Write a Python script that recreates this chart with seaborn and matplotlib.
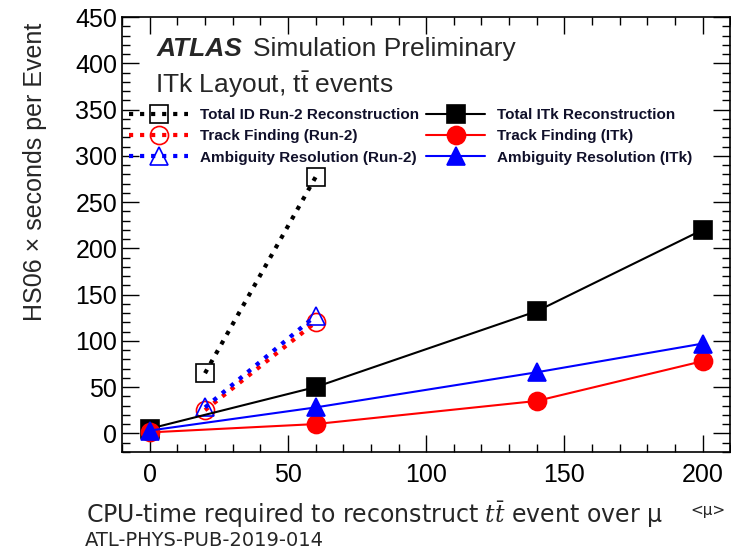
import matplotlib
matplotlib.use("Agg")
import matplotlib.pyplot as plt
import seaborn as sns
import numpy as np
from matplotlib.ticker import MultipleLocator

sns.set_theme(style="ticks")
plt.rcParams['font.family'] = ['Liberation Sans', 'DejaVu Sans']
plt.rcParams['mathtext.fontset'] = 'custom'
plt.rcParams['mathtext.rm'] = 'Liberation Sans'
plt.rcParams['mathtext.it'] = 'DejaVu Serif:italic'

# Data
mu_run2 = [20, 60]
total_run2 = [65, 277]
track_run2 = [25, 120]
ambi_run2 = [28, 127]

mu_itk = [0, 60, 140, 200]
total_itk = [5, 50, 132, 220]
track_itk = [1, 10, 35, 78]
ambi_itk = [3, 28, 66, 97]

labels_run2 = ["Total ID Run-2 Reconstruction", "Track Finding (Run-2)", "Ambiguity Resolution (Run-2)"]
labels_itk = ["Total ITk Reconstruction", "Track Finding (ITk)", "Ambiguity Resolution (ITk)"]

fig = plt.figure(figsize=(7.31, 5.51), dpi=100)
ax = fig.add_axes([0.167, 0.180, 0.832, 0.789])

series = [
    (mu_run2, total_run2, labels_run2[0], 'black', 's', ':', 'none', 13),
    (mu_run2, track_run2, labels_run2[1], 'red', 'o', ':', 'none', 13),
    (mu_run2, ambi_run2, labels_run2[2], 'blue', '^', ':', 'none', 13),
    (mu_itk, total_itk, labels_itk[0], 'black', 's', '-', 'black', 13),
    (mu_itk, track_itk, labels_itk[1], 'red', 'o', '-', 'red', 13),
    (mu_itk, ambi_itk, labels_itk[2], 'blue', '^', '-', 'blue', 13),
]
for x, y, lab, col, mk, ls, mfc, ms in series:
    lw = 3.0 if ls == ':' else 1.5
    sns.lineplot(x=x, y=y, ax=ax, color=col, marker=mk, linestyle=ls, linewidth=lw,
                 markersize=ms, markerfacecolor=mfc, markeredgecolor=col,
                 markeredgewidth=1.2, label=lab, legend=False)

ax.set_xlim(-10, 210)
ax.set_ylim(-20, 450)
ax.xaxis.set_major_locator(MultipleLocator(50))
ax.xaxis.set_minor_locator(MultipleLocator(10))
ax.yaxis.set_major_locator(MultipleLocator(50))
ax.yaxis.set_minor_locator(MultipleLocator(10))
ax.tick_params(which='both', direction='in', top=True, right=True, labelsize=18, colors='black')
ax.tick_params(which='major', length=12, width=1)
ax.tick_params(which='minor', length=6, width=1)
ax.tick_params(axis='x', pad=8)
for s in ax.spines.values():
    s.set_color('black')
    s.set_linewidth(1.2)

ax.set_ylabel("")
ax.set_xlabel("")
fig.text(35/731, 1 - 172/551, "HS06 × seconds per Event", rotation=90, fontsize=18,
         ha='center', va='center')

ax.text(0.056, 0.927, "ATLAS", transform=ax.transAxes, fontsize=19, fontweight='bold',
        fontstyle='italic', va='center')
ax.text(0.215, 0.927, "Simulation Preliminary", transform=ax.transAxes, fontsize=19, va='center')
ax.text(0.054, 0.845, "ITk Layout, t$\\bar{\\mathrm{t}}$ events", transform=ax.transAxes,
        fontsize=19, va='center')

handles, labs = ax.get_legend_handles_labels()
leg = ax.legend(handles, labs, ncol=2, loc='upper left', bbox_to_anchor=(0.012, 0.791),
                frameon=False, prop={'size': 11, 'weight': 'bold'}, handlelength=3.85,
                handletextpad=0.8, columnspacing=0.45, labelspacing=0.48, borderaxespad=0,
                borderpad=0)
for t in leg.get_texts():
    t.set_color('#10102a')

fig.text(86/731, 1 - 515/551, "CPU-time required to reconstruct $t\\bar{t}$ event over μ",
         fontsize=17, va='center', family=['DejaVu Sans'])
fig.text(690/731, 1 - 510/551, "<μ>", fontsize=11, va='center', family=['DejaVu Sans'])
fig.text(85/731, 1 - 540/551, "ATL-PHYS-PUB-2019-014", fontsize=14, va='center', family=['DejaVu Sans'])

fig.savefig("out.png", dpi=100)
